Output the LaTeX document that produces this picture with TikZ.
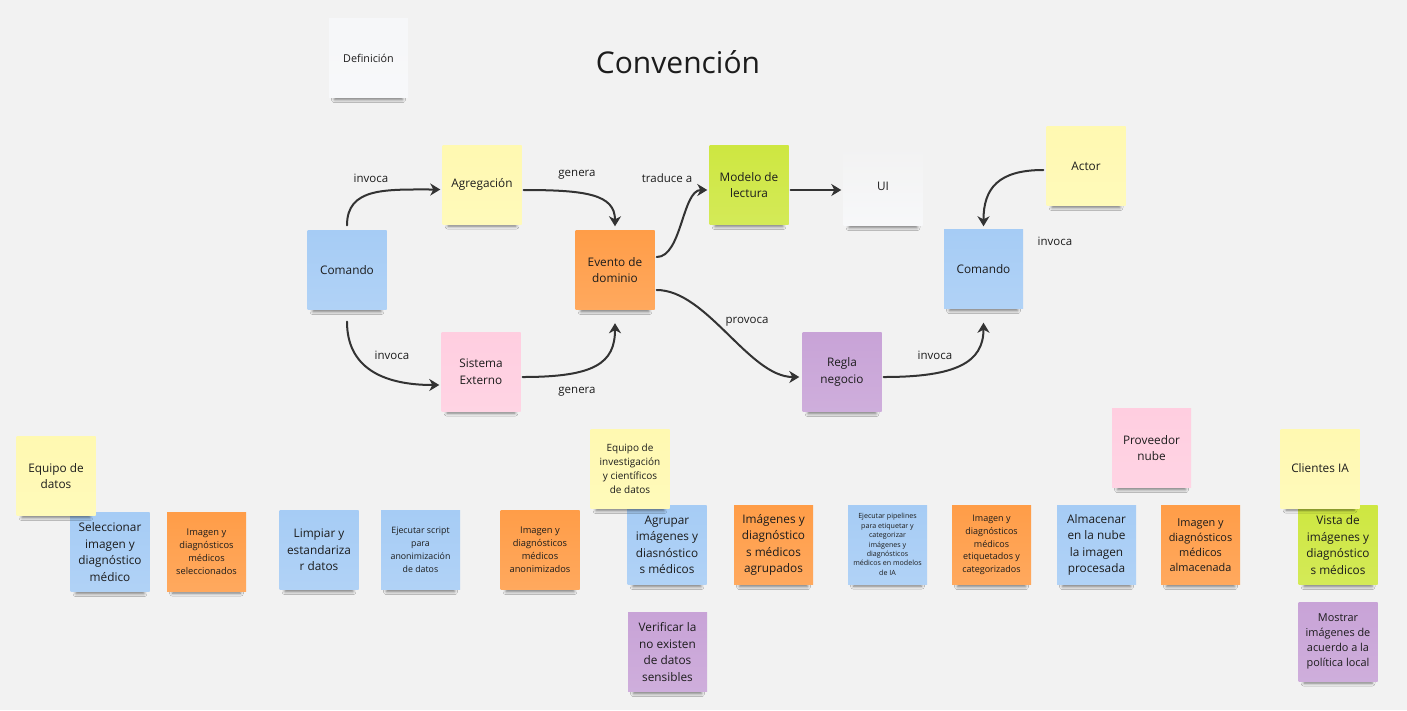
\documentclass[tikz,border=0pt]{standalone}
\usepackage{fontspec}
\setmainfont{Open Sans}
\usetikzlibrary{arrows.meta,shadows.blur}

\definecolor{bg}{HTML}{F2F2F2}
\definecolor{ink}{HTML}{1C1C1C}
\definecolor{wire}{HTML}{333333}
\definecolor{nyellow}{HTML}{FFF9B1}
\definecolor{nblue}{HTML}{A6CCF5}
\definecolor{npink}{HTML}{FFCEE0}
\definecolor{norange}{HTML}{FF9D48}
\definecolor{ngreen}{HTML}{CEE741}
\definecolor{npurple}{HTML}{C8A3D7}
\definecolor{nwhite}{HTML}{F6F7F9}

\tikzset{
  note/.style={minimum width=79pt, minimum height=79pt, inner sep=2pt,
    align=center, text=ink,
    top color=#1, bottom color=#1!88!white,
    blur shadow={shadow xshift=0pt, shadow yshift=-9pt, shadow scale=0.86,
      shadow opacity=50, shadow blur radius=3.5pt}},
  note/.default=nwhite,
  fbig/.style={font=\fontsize{11.8}{16.5}\selectfont},
  fmid/.style={font=\fontsize{10.9}{14.9}\selectfont},
  fsmall/.style={font=\fontsize{9.3}{13}\selectfont},
  ftiny/.style={font=\fontsize{7.1}{9.4}\selectfont},
  lbl/.style={text=ink, font=\fontsize{11.5}{14}\selectfont},
  conn/.style={draw=wire, line width=2pt, line cap=round,
    -{Stealth[length=10pt, width=12pt, inset=3pt]}},
}

\begin{document}
\begin{tikzpicture}[x=1pt, y=-1pt]
  % canvas
  \fill[bg] (0,0) rectangle (1407,710);
  \useasboundingbox (0,0) rectangle (1407,710);

  % heading and legend card
  \node[text=ink, font=\fontsize{30}{36}\selectfont] (title) at (678,62) {Convención};
  \node[note=nwhite, font=\fontsize{10.8}{14}\selectfont] (def) at (368.5,58) {Definición};

  % convention diagram
  \node[note=nyellow, fbig] (agg)  at (482,184.5) {Agregación};
  \node[note=nblue,   fbig] (cmdl) at (347,270)   {Comando};
  \node[note=npink,   fbig] (ext)  at (481,371.5) {Sistema\\Externo};
  \node[note=norange, fbig] (evt)  at (615,270)   {Evento de\\dominio};
  \node[note=ngreen,  fbig] (mod)  at (749,185)   {Modelo de\\lectura};
  \node[note=nwhite,  fbig, top color=bg] (ui) at (883,186) {UI};
  \node[note=nyellow, fbig] (act)  at (1086,166)  {Actor};
  \node[note=nblue,   fbig] (cmdr) at (983.5,269) {Comando};
  \node[note=npurple, fbig] (rule) at (842,372)   {Regla\\negocio};

  % connectors
  \draw[conn] ([yshift=5pt]cmdl.north) .. controls +(0,-38) and +(-55,0) .. ([xshift=-2pt,yshift=-5pt]agg.west);
  \draw[conn] ([xshift=2pt,yshift=-5.5pt]agg.east) .. controls +(62,0) and +(0,-32) .. ([yshift=4pt]evt.north);
  \draw[conn] ([yshift=-12pt]cmdl.south) .. controls +(0,45) and +(-58,0) .. ([xshift=-2pt,yshift=-13.5pt]ext.west);
  \draw[conn] ([xshift=2pt,yshift=-5.5pt]ext.east) .. controls +(72,0) and +(0,40) .. ([yshift=-13.5pt]evt.south);
  \draw[conn] ([xshift=2pt,yshift=13pt]evt.east) .. controls +(25,0) and +(-25,0) .. ([xshift=-2pt,yshift=-5pt]mod.west);
  \draw[conn] ([xshift=2pt,yshift=-5pt]mod.east) -- ([xshift=-2pt,yshift=-4pt]ui.west);
  \draw[conn] ([xshift=2pt,yshift=-20pt]evt.east) .. controls +(50,0) and +(-50,0) .. ([xshift=-3pt,yshift=-5pt]rule.west);
  \draw[conn] ([xshift=2pt,yshift=-5pt]rule.east) .. controls +(72,0) and +(0,40) .. ([yshift=-14pt]cmdr.south);
  \draw[conn] ([xshift=-3pt,yshift=-4pt]act.west) .. controls +(-45,0) and +(0,-38) .. ([yshift=3pt]cmdr.north);

  % connector labels
  \node[lbl] (l1) at (371,178)  {invoca};
  \node[lbl] (l2) at (577,175)  {genera};
  \node[lbl] (l3) at (667,178)  {traduce a};
  \node[lbl] (l4) at (392,355)  {invoca};
  \node[lbl] (l5) at (577,392)  {genera};
  \node[lbl] (l6) at (747,322)  {provoca};
  \node[lbl] (l7) at (935,355)  {invoca};
  \node[lbl] (l8) at (1055,241) {invoca};

  % process flow: commands and events
  \node[note=nblue,   fbig]   (sel)    at (110,552)    {Seleccionar\\imagen y\\diagnóstico\\médico};
  \node[note=norange, fsmall] (imgsel) at (206.5,551.5) {Imagen y\\diagnósticos\\médicos\\seleccionados};
  \node[note=nblue,   fbig]   (limp)   at (319,550)    {Limpiar y\\estandariza\\r datos};
  \node[note=nblue, font=\fontsize{8.8}{12.8}\selectfont] (ejs) at (420.5,550) {Ejecutar script\\para\\anonimización\\de datos};
  \node[note=norange, fsmall] (imganon) at (540,550)   {Imagen y\\diagnósticos\\médicos\\anonimizados};
  \node[note=nblue,   fbig]   (agr)    at (667,545)    {Agrupar\\imágenes y\\diasnóstico\\s médicos};
  \node[note=norange, fbig]   (imgagr) at (773.5,545)  {Imágenes y\\diagnóstico\\s médicos\\agrupados};
  \node[note=nblue,   ftiny]  (ejp)    at (887.5,544.5) {Ejecutar pipelines\\para etiquetar y\\categorizar\\imágenes y\\diagnósticos\\médicos en modelos\\de IA};
  \node[note=norange, font=\fontsize{9}{12.8}\selectfont] (imgeti) at (991.5,545) {Imagen y\\diagnósticos\\médicos\\etiquetados y\\categorizados};
  \node[note=nblue,   fbig]   (alm)    at (1096.5,545) {Almacenar\\en la nube\\la imagen\\procesada};
  \node[note=norange, fmid]   (imgalm) at (1200.5,545) {Imagen y\\diagnósticos\\médicos\\almacenada};
  \node[note=ngreen,  fbig]   (vista)  at (1338,545)   {Vista de\\imágenes y\\diagnóstico\\s médicos};
  \node[note=npurple, fbig]   (verif)  at (667.5,652)  {Verificar la\\no existen\\de datos\\sensibles};
  \node[note=npurple, fmid]   (most)   at (1338,641.5) {Mostrar\\imágenes de\\acuerdo a la\\política local};

  % actors and external systems, stuck on top
  \node[note=nyellow, fbig] (eqd)  at (56,476)     {Equipo de\\datos};
  \node[note=nyellow, font=\fontsize{10}{13.9}\selectfont] (eqi) at (630,469) {Equipo de\\investigación\\y científicos\\de datos};
  \node[note=npink,   fbig] (prov) at (1151.5,448) {Proveedor\\nube};
  \node[note=nyellow, fbig] (cli)  at (1320,468.5) {Clientes IA};
\end{tikzpicture}
\end{document}
